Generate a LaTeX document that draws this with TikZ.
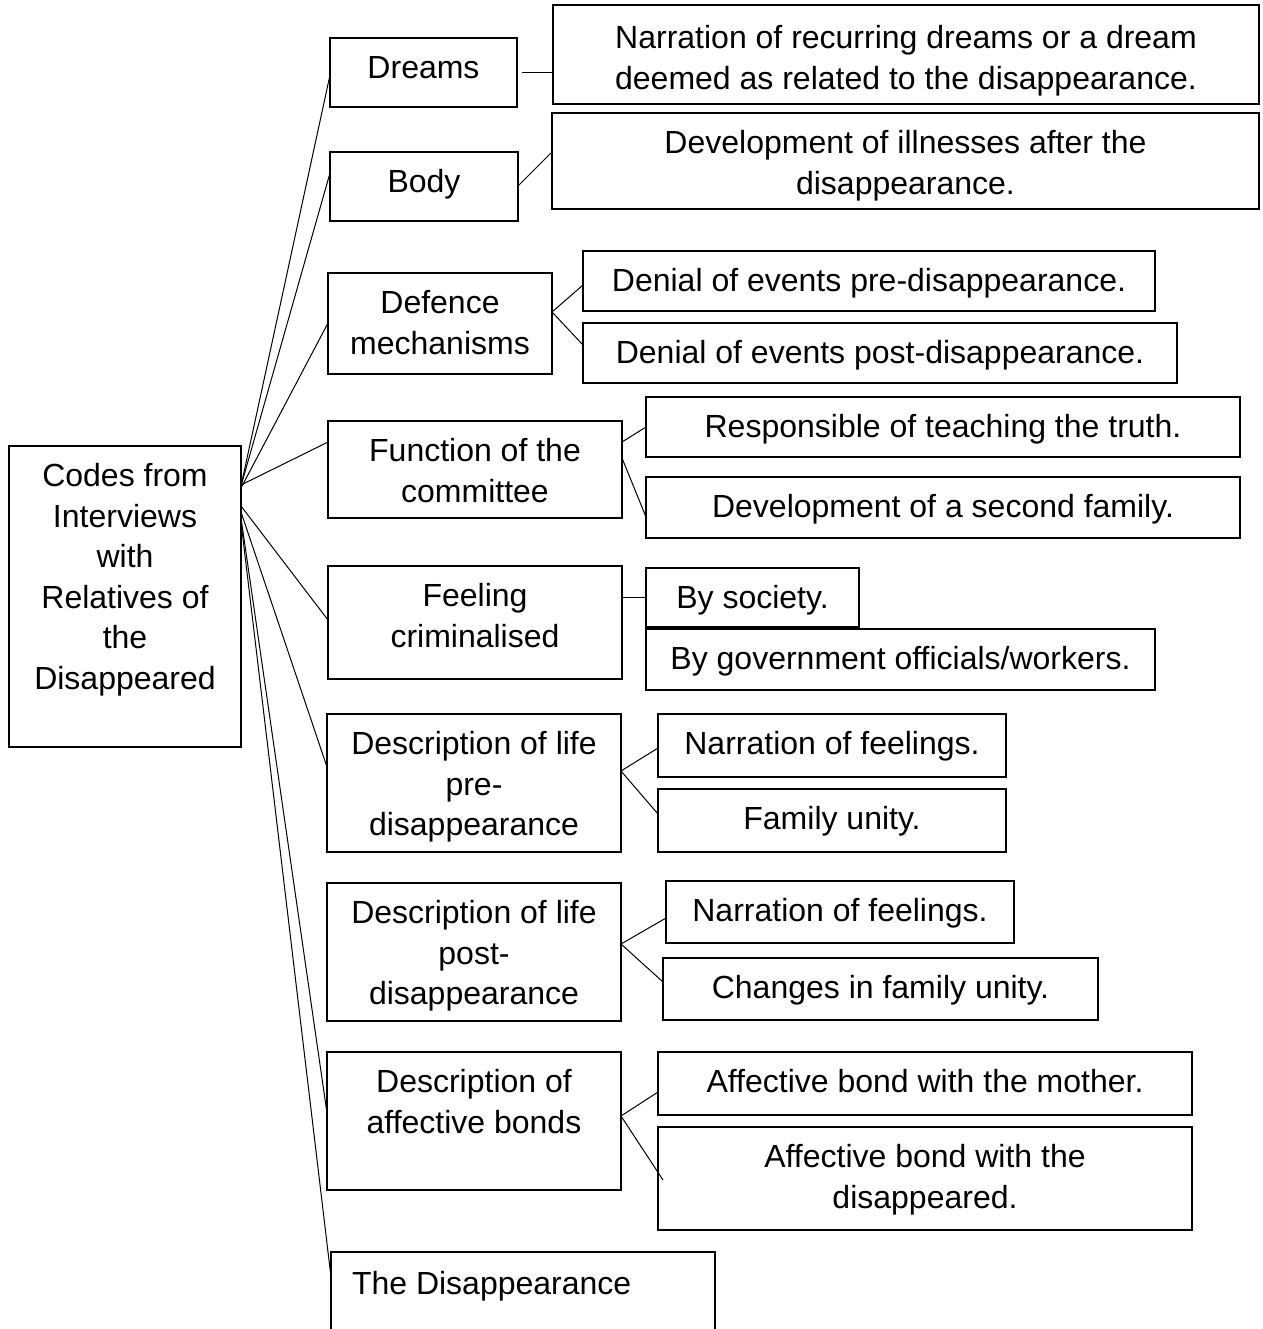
\documentclass[tikz,border=0pt]{standalone}
\usepackage{fontspec}
\setmainfont{Liberation Sans}
\usetikzlibrary{calc}

% box text: [top space] width and height in px, text set from the top
\newcommand{\cbox}[4][6.2pt]{\parbox[c][\dimexpr #3pt/2\relax][t]{\dimexpr #2pt/2\relax}{\centering\vspace*{#1}\strut #4\par}}

\tikzset{
  code/.style={draw, line width=0.6pt, inner sep=0pt, outer sep=0pt, anchor=north west},
  link/.style={draw, line width=0.5pt}
}

\begin{document}
\begin{tikzpicture}[x=0.5pt, y=-0.5pt, font=\fontsize{16pt}{20.25pt}\selectfont]
\path[use as bounding box] (0,0) rectangle (1263,1329);

\node[code] (root) at (9,446) {\cbox{232}{301}{Codes from\\Interviews\\with\\Relatives of\\the\\Disappeared}};

\node[code] (dreams) at (330,38) {\cbox{187}{69}{Dreams}};
\node[code] (dreamtxt) at (553,5) {\cbox[7.7pt]{706}{99}{Narration of recurring dreams or a dream\\deemed as related to the disappearance.}};

\node[code] (body) at (330,152) {\cbox{188}{69}{Body}};
\node[code] (illness) at (552,113) {\cbox{707}{96}{Development of illnesses after the\\disappearance.}};

\node[code] (defence) at (328,273) {\cbox{224}{101}{Defence\\mechanisms}};
\node[code] (denialpre) at (583,251) {\cbox{572}{60}{Denial of events pre-disappearance.}};
\node[code] (denialpost) at (583,323) {\cbox{594}{60}{Denial of events post-disappearance.}};

\node[code] (committee) at (328,421) {\cbox{294}{97}{Function of the\\committee}};
\node[code] (truth) at (646,397) {\cbox{594}{60}{Responsible of teaching the truth.}};
\node[code] (family2) at (646,477) {\cbox{594}{61}{Development of a second family.}};

\node[code] (criminal) at (328,566) {\cbox{294}{113}{Feeling\\criminalised}};
\node[code] (society) at (646,568) {\cbox{213}{59}{By society.}};
\node[code] (government) at (646,629) {\cbox{509}{61}{By government officials/workers.}};

\node[code] (lifepre) at (327,714) {\cbox{294}{138}{Description of life\\pre-\\disappearance}};
\node[code] (feelpre) at (658,714) {\cbox{348}{63}{Narration of feelings.}};
\node[code] (unitypre) at (658,789) {\cbox{348}{63}{Family unity.}};

\node[code] (lifepost) at (327,883) {\cbox{294}{138}{Description of life\\post-\\disappearance}};
\node[code] (feelpost) at (666,881) {\cbox{348}{62}{Narration of feelings.}};
\node[code] (unitypost) at (663,958) {\cbox{435}{62}{Changes in family unity.}};

\node[code] (bonds) at (327,1052) {\cbox{294}{138}{Description of\\affective bonds}};
\node[code] (mother) at (658,1052) {\cbox{534}{63}{Affective bond with the mother.}};
\node[code] (disapp) at (658,1127) {\cbox{534}{103}{Affective bond with the\\disappeared.}};

\node[code] (event) at (331,1252) {\parbox[c][60pt][t]{192pt}{\vspace*{7.2pt}\hspace*{10.5pt}\strut The Disappearance}};

% fan from the root
\draw[link] ($(root.north east)+(0,40)$) -- ($(dreams.north west)+(0,37)$);
\draw[link] ($(root.north east)+(0,40)$) -- ($(body.north west)+(0,21)$);
\draw[link] ($(root.north east)+(0,42)$) -- ($(defence.north west)+(0,50)$);
\draw[link] ($(root.north east)+(0,39)$) -- ($(committee.north west)+(0,21)$);
\draw[link] ($(root.north east)+(0,60)$) -- ($(criminal.north west)+(0,54)$);
\draw[link] ($(root.north east)+(0,66)$) -- ($(lifepre.north west)+(0,53)$);
\draw[link] ($(root.north east)+(0,72)$) -- ($(bonds.north west)+(0,61)$);
\draw[link] ($(root.north east)+(0,76)$) -- ($(event.north west)+(0,25)$);

% second level
\draw[link] ($(dreams.east)+(5,0)$) -- (dreams.east -| dreamtxt.west);
\draw[link] ($(body.north east)+(1,33)$) -- ($(illness.north west)+(0,39)$);
\draw[link] ($(defence.north east)+(0,39)$) -- ($(denialpre.north west)+(0,34)$);
\draw[link] ($(defence.north east)+(0,39)$) -- ($(denialpost.north west)+(0,22)$);
\draw[link] ($(committee.north east)+(0,21)$) -- ($(truth.north west)+(0,30)$);
\draw[link] ($(committee.north east)+(0,37)$) -- ($(family2.north west)+(0,40)$);
\draw[link] (society.west -| criminal.east) -- (society.west);
\draw[link] ($(lifepre.north east)+(0,57)$) -- ($(feelpre.north west)+(0,34)$);
\draw[link] ($(lifepre.north east)+(0,57)$) -- ($(unitypre.north west)+(0,25)$);
\draw[link] ($(lifepost.north east)+(0,61)$) -- ($(feelpost.north west)+(0,37)$);
\draw[link] ($(lifepost.north east)+(0,61)$) -- ($(unitypost.north west)+(0,24)$);
\draw[link] ($(bonds.north east)+(0,64)$) -- ($(mother.north west)+(0,40)$);
\draw[link] ($(bonds.north east)+(0,64)$) -- ($(disapp.north west)+(5,53)$);
\end{tikzpicture}
\end{document}
